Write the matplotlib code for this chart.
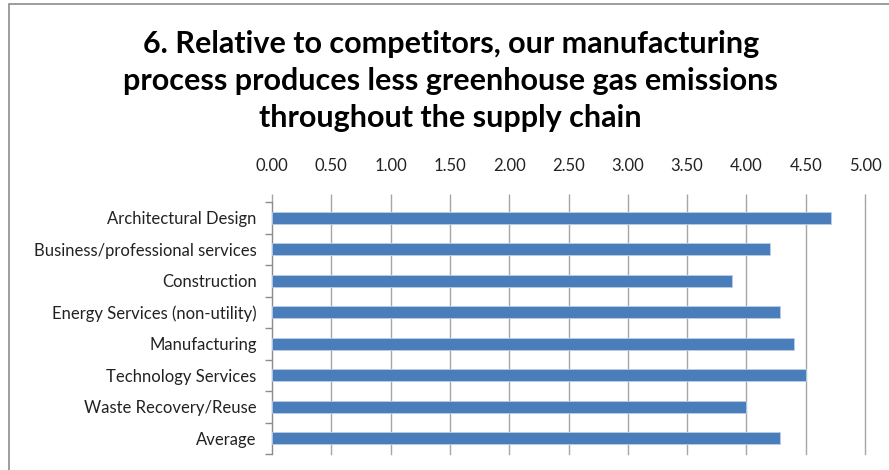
import numpy as np
import matplotlib.pyplot as plt
from matplotlib.patches import Rectangle

# survey results, question 6 (mean score by sector)
sectors = [
    "Architectural Design",
    "Business/professional services",
    "Construction",
    "Energy Services (non-utility)",
    "Manufacturing",
    "Technology Services",
    "Waste Recovery/Reuse",
    "Average",
]
scores = [4.71, 4.20, 3.88, 4.28, 4.40, 4.50, 4.00, 4.28]
x_ticks = [0.0, 0.5, 1.0, 1.5, 2.0, 2.5, 3.0, 3.5, 4.0, 4.5, 5.0]

TITLE = ("6. Relative to competitors, our manufacturing\n"
         "process produces less greenhouse gas emissions\n"
         "throughout the supply chain")

plt.rcParams["font.family"] = ["Lato", "DejaVu Sans"]

fig = plt.figure(figsize=(8.89, 4.70), dpi=100)

# outer chart frame
fig.patches.append(Rectangle((9 / 889, -0.05), 1.2, 1 - 4 / 470 + 0.05,
                             transform=fig.transFigure, fill=False,
                             edgecolor="#8c8c8c", linewidth=1.2))

ax = fig.add_axes([272 / 889, 1 - 454 / 470, (865 - 272) / 889, (454 - 202) / 470])

y = np.arange(len(sectors))
ax.barh(y, scores, height=0.38, color="#4a7ebb", edgecolor="#b9cde5",
        linewidth=0.6, zorder=3)

ax.set_xlim(0, 5)
ax.set_ylim(len(sectors) - 0.5, -0.5)
ax.set_xticks(x_ticks)
ax.set_xticklabels([f"{v:.2f}" for v in x_ticks], fontsize=12, color="#222222")
ax.xaxis.tick_top()
ax.tick_params(axis="x", length=6, color="#a6a6a6", width=1.0, pad=14)
ax.grid(axis="x", color="#a6a6a6", linewidth=1.0, zorder=0)
for gl in ax.get_xgridlines():
    gl.set_clip_on(False)

ax.set_yticks(y)
ax.set_yticklabels(sectors, fontsize=12, color="#222222")
ax.set_yticks(np.arange(len(sectors) + 1) - 0.5, minor=True)
ax.tick_params(axis="y", which="major", length=0, pad=11)
ax.tick_params(axis="y", which="minor", length=5, color="#8c8c8c", width=1)

for side in ["top", "right", "bottom"]:
    ax.spines[side].set_visible(False)
ax.spines["left"].set_color("#8c8c8c")

fig.text(0.507, 1 - 81 / 470, TITLE, ha="center", va="center",
         fontsize=22, fontweight="bold", linespacing=1.38)

fig.savefig("out.png", dpi=100)
